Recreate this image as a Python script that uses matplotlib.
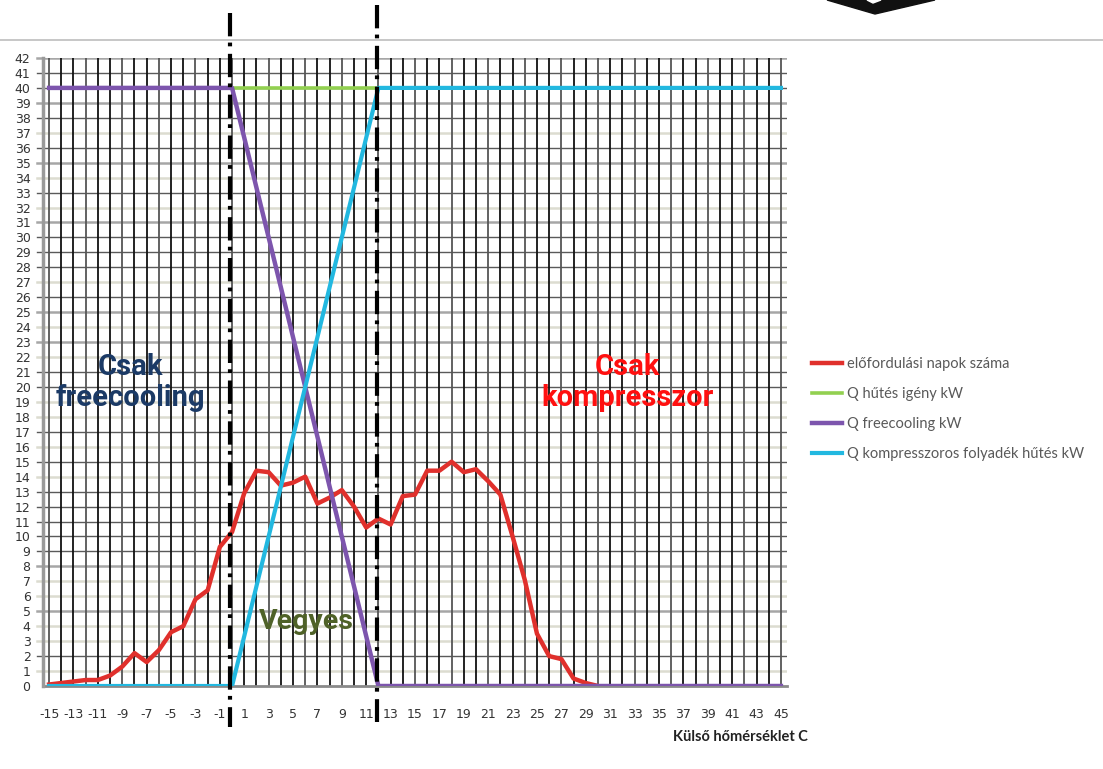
import matplotlib
matplotlib.use("Agg")
import matplotlib.pyplot as plt
from matplotlib.lines import Line2D
from matplotlib.patches import Polygon

# Outside temperature categories (°C)
temps = list(range(-15, 46))

# Number of days on which each outside temperature occurs (-15 .. 30 °C)
napok_temps = list(range(-15, 31))
napok = [0.1, 0.2, 0.3, 0.4, 0.4, 0.7, 1.3, 2.2, 1.6, 2.4, 3.6, 4.0, 5.8, 6.4,
         9.3, 10.3, 12.9, 14.4, 14.3, 13.4, 13.6, 14.0, 12.2, 12.6, 13.1, 12.0,
         10.6, 11.2, 10.8, 12.7, 12.8, 14.4, 14.4, 15.0, 14.3, 14.5, 13.7, 12.8,
         10.0, 7.1, 3.5, 2.0, 1.8, 0.5, 0.2, 0.0]

# Cooling demand (kW)
q_igeny = [40] * 61

# Free-cooling capacity (kW): full below 0 °C, none above 12 °C
q_freecooling = ([40] * 15
                 + [40, 36.67, 33.33, 30, 26.67, 23.33, 20, 16.67, 13.33, 10, 6.67, 3.33, 0]
                 + [0] * 33)

# Compressor liquid cooling (kW)
q_kompresszor = ([0] * 15
                 + [0, 3.33, 6.67, 10, 13.33, 16.67, 20, 23.33, 26.67, 30, 33.33, 36.67, 40]
                 + [40] * 33)

series_labels = ["előfordulási napok száma", "Q hűtés igény kW",
                 "Q freecooling kW", "Q kompresszoros folyadék hűtés kW"]

# Boundaries between operating modes (°C)
hatarok = [-0.2, 11.9]

y_ticks = list(range(0, 43))
x_ticks = temps[::2]

W, H = 1103, 769
fig = plt.figure(figsize=(W / 100, H / 100), dpi=100)
ax = fig.add_axes([43 / W, 83 / H, 744 / W, 628 / H])
ax.set_xlim(-15.5, 45.5)
ax.set_ylim(0, 42)

# Horizontal gridlines, uneven tones as printed
tone = {"d": ("#5a5a5a", 1.0), "g": ("#a6a6a6", 1.8), "l": ("#dcdcd0", 1.8)}
styles = {42: "g", 41: "d", 40: "d", 39: "g", 38: "d", 37: "l", 36: "d", 35: "g",
          34: "l", 33: "d", 32: "l", 31: "g", 30: "d", 29: "d", 28: "d", 27: "l",
          26: "d", 25: "g", 24: "l", 23: "g", 22: "l", 21: "d", 20: "d", 19: "l",
          18: "l", 17: "d", 16: "l", 15: "d", 14: "l", 13: "d", 12: "d", 11: "d",
          10: "d", 9: "d", 8: "g", 7: "l", 6: "l", 5: "g", 4: "l", 3: "l", 2: "d",
          1: "l"}
for yv in y_ticks[1:]:
    c, lw = tone[styles[yv]]
    ax.axhline(yv, color=c, lw=lw, zorder=1)
    ax.plot([-15.98, -15.5], [yv, yv], color=c, lw=lw, clip_on=False, zorder=1)

# Vertical gridlines at every temperature
for i, t in enumerate(temps):
    col = "#111111" if i % 3 else "#555555"
    ax.axvline(t, color=col, lw=1.3, zorder=1)

line_red, = ax.plot(napok_temps, napok, color="#e0302c", lw=3.2, zorder=3,
                    solid_joinstyle="round")
line_green, = ax.plot(temps, q_igeny, color="#92d050", lw=2.6, zorder=4)
line_purple, = ax.plot(temps, q_freecooling, color="#7d55ad", lw=3.2, zorder=5)
line_cyan, = ax.plot(temps, q_kompresszor, color="#22b8e0", lw=3.0, zorder=6)

# Dash-dot mode boundaries, running past the plot frame
for x, (ytop, ybot) in zip(hatarok, [(45.0, -2.75), (45.55, -2.4)]):
    ax.plot([x, x], [ytop, ybot], color="black", lw=3.0,
            dashes=[5.6, 1.5, 0.9, 1.8], clip_on=False, zorder=8)

for s in ["top", "right"]:
    ax.spines[s].set_visible(False)
ax.spines["left"].set_color("#9a9a9a")
ax.spines["left"].set_linewidth(2.5)
ax.spines["bottom"].set_color("#8a8a8a")
ax.spines["bottom"].set_linewidth(2.0)
ax.spines["bottom"].set_zorder(2)

ax.set_yticks(y_ticks)
ax.set_yticklabels([str(v) for v in y_ticks])
ax.set_xticks(x_ticks)
ax.set_xticklabels([str(v) for v in x_ticks])
ax.tick_params(axis="y", length=0, pad=9, labelsize=9, labelcolor="#333333")
ax.tick_params(axis="x", length=0, pad=16, labelsize=9, labelcolor="#333333")

bold_font = ["Roboto", "Liberation Sans", "DejaVu Sans"]
ax.text(-8.36, 20.3, "Csak\nfreecooling", color="#1b3a66", fontsize=21,
        fontweight="bold", family=bold_font, ha="center", va="center",
        linespacing=1.1, zorder=7)
ax.text(32.46, 20.3, "Csak\nkompresszor", color="#ff1010", fontsize=21,
        fontweight="bold", family=bold_font, ha="center", va="center",
        linespacing=1.1, zorder=7)
ax.text(6.07, 4.3, "Vegyes", color="#4f6228", fontsize=20.5,
        fontweight="bold", family=bold_font, ha="center", va="center", zorder=7)

fig.text(808 / W, 1 - 737 / H, "Külső hőmérséklet C", ha="right", va="center",
         fontsize=10.5, fontweight="bold", family=["Lato", "DejaVu Sans"],
         color="#222222")

leg = fig.legend([line_red, line_green, line_purple, line_cyan], series_labels,
                 loc="upper left", bbox_to_anchor=(812 / W, 1 - 357 / H),
                 frameon=False, handlelength=2.05, borderaxespad=0,
                 handletextpad=0.35, labelspacing=1.1, borderpad=0,
                 prop={"family": ["Lato", "DejaVu Sans"], "size": 10.5})
for t in leg.get_texts():
    t.set_color("#595959")

# Page rule at the top and the cropped dark shape above it
fig.add_artist(Line2D([0, 1], [1 - 40 / H, 1 - 40 / H], color="#bdbdbd", lw=1.2))
fig.add_artist(Polygon([(827 / W, 1.0), (875 / W, 1 - 14 / H), (935 / W, 1.0)],
                       closed=True, color="#111111", transform=fig.transFigure))
fig.add_artist(Polygon([(867 / W, 1.0), (873 / W, 1 - 3 / H), (881 / W, 1.0)],
                       closed=True, color="white", transform=fig.transFigure))

fig.savefig("out.png", dpi=100, facecolor="white")
